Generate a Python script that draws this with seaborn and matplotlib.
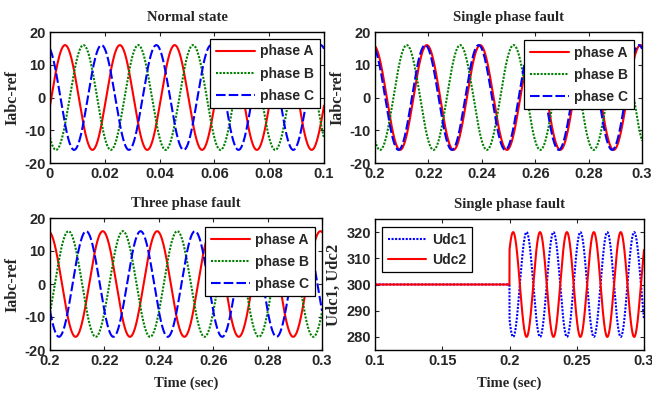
"""
plot.py

Reference currents and DC-link voltages for normal state, single phase
fault and three phase fault (MATLAB-style 2x2 figure).
"""
import numpy as np
import pandas as pd
import matplotlib
matplotlib.use("Agg")
import matplotlib.pyplot as plt
import seaborn as sns


# =========================
# DATA
# =========================
FREQ = 50.0                 # Hz, one cycle = 0.02 s
I_AMP = 16.0                # current amplitude
# time of a positive peak for each phase, per panel (sec)
NORMAL_PEAKS = {"phase A": 0.0055, "phase B": 0.0122, "phase C": 0.0188}
SINGLE_PEAKS = {"phase A": 0.2194, "phase B": 0.2119, "phase C": 0.2188}
THREE_PEAKS = {"phase A": 0.2194, "phase B": 0.2068, "phase C": 0.2133}

UDC_BASE = 300.0
UDC_AMP = 20.0
FAULT_TIME = 0.2
UDC2_PEAK = 0.2027          # Udc2 first peak after fault; Udc1 is in antiphase

PHASES = ["phase A", "phase B", "phase C"]
UDC_NAMES = ["Udc1", "Udc2"]

NORMAL_XTICKS = [0, 0.02, 0.04, 0.06, 0.08, 0.1]
FAULT_XTICKS = [0.2, 0.22, 0.24, 0.26, 0.28, 0.3]
UDC_XTICKS = [0.1, 0.15, 0.2, 0.25, 0.3]
I_YTICKS = [-20, -10, 0, 10, 20]
UDC_YTICKS = [280, 290, 300, 310, 320]


# =========================
# SETTINGS
# =========================
sns.set_theme(style="ticks")
plt.rcParams["font.family"] = ["Liberation Sans", "DejaVu Sans"]
plt.rcParams["axes.unicode_minus"] = False
plt.rcParams["xtick.direction"] = "in"
plt.rcParams["ytick.direction"] = "in"
plt.rcParams["xtick.top"] = True
plt.rcParams["ytick.right"] = True

SERIF = ["Liberation Serif", "DejaVu Serif"]
LW = 1.5
STYLE = {
    "phase A": dict(color="#ff0000", linestyle="-"),
    "phase B": dict(color="#008000", linestyle=(0, (1, 0.7))),
    "phase C": dict(color="#0000ff", linestyle=(0, (4.6, 1.5))),
    "Udc1": dict(color="#0000ff", linestyle=(0, (1, 0.7))),
    "Udc2": dict(color="#ff0000", linestyle="-"),
}


def phase_frame(peaks, t0, t1):
    t = np.linspace(t0, t1, 2001)
    rows = []
    for name in PHASES:
        y = I_AMP * np.cos(2 * np.pi * FREQ * (t - peaks[name]))
        rows.append(pd.DataFrame({"t": t, "y": y, "series": name}))
    return pd.concat(rows)


def udc_frame(t0, t1):
    t = np.linspace(t0, t1, 4001)
    wave = UDC_AMP * np.cos(2 * np.pi * FREQ * (t - UDC2_PEAK))
    after = t >= FAULT_TIME
    udc2 = np.where(after, UDC_BASE + wave, UDC_BASE)
    udc1 = np.where(after, UDC_BASE - wave, UDC_BASE)
    return pd.concat([
        pd.DataFrame({"t": t, "y": udc1, "series": "Udc1"}),
        pd.DataFrame({"t": t, "y": udc2, "series": "Udc2"}),
    ])


def draw(ax, df, names):
    for name in names:
        part = df[df["series"] == name]
        sns.lineplot(data=part, x="t", y="y", ax=ax, estimator=None,
                     sort=False, lw=LW, label=name, **STYLE[name])


def finish(ax, title, xticks, yticks, xlim, ylim, ylabel, xlabel=None, ysize=11.5):
    ax.set_xlim(*xlim)
    ax.set_ylim(*ylim)
    ax.set_xticks(xticks)
    ax.set_xticklabels([f"{v:g}" for v in xticks])
    ax.set_yticks(yticks)
    ax.set_yticklabels([f"{v:g}" for v in yticks])
    ax.tick_params(labelsize=10.5, length=3, width=0.8, pad=3)
    for lab in ax.get_xticklabels() + ax.get_yticklabels():
        lab.set_fontweight("bold")
    for sp in ax.spines.values():
        sp.set_linewidth(1.0)
        sp.set_color("black")
    ax.set_title(title, family=SERIF, fontweight="bold", fontsize=10.5, pad=8)
    ax.set_ylabel(ylabel, family=SERIF, fontweight="bold", fontsize=ysize, labelpad=3)
    ax.set_xlabel(xlabel if xlabel else "", family=SERIF, fontweight="bold",
                  fontsize=10.5, labelpad=6)


def legend(ax, loc, anchor, spacing=0.58):
    leg = ax.legend(loc=loc, bbox_to_anchor=anchor, frameon=True, fancybox=False,
                    prop={"weight": "bold", "size": 10}, handlelength=2.8,
                    borderpad=0.4, labelspacing=spacing, handletextpad=0.4,
                    borderaxespad=0.0)
    leg.get_frame().set_edgecolor("black")
    leg.get_frame().set_linewidth(0.9)
    leg.get_frame().set_alpha(1.0)


# =========================
# FIGURE
# =========================
fig = plt.figure(figsize=(6.52, 3.98), dpi=100)
fig.patch.set_facecolor("white")

ax1 = fig.add_axes([50 / 652, 235 / 398, 274 / 652, 131 / 398])
ax2 = fig.add_axes([375 / 652, 235 / 398, 267 / 652, 131 / 398])
ax3 = fig.add_axes([50 / 652, 48 / 398, 272 / 652, 132 / 398])
ax4 = fig.add_axes([375 / 652, 48 / 398, 269 / 652, 131 / 398])

draw(ax1, phase_frame(NORMAL_PEAKS, 0, 0.1), PHASES)
finish(ax1, "Normal state", NORMAL_XTICKS, I_YTICKS, (0, 0.1), (-20, 20), "Iabc-ref")
legend(ax1, "upper right", (0.985, 0.947))

draw(ax2, phase_frame(SINGLE_PEAKS, 0.2, 0.3), PHASES)
finish(ax2, "Single phase fault", FAULT_XTICKS, I_YTICKS, (0.2, 0.3), (-20, 20), "Iabc-ref")
legend(ax2, "upper right", (0.970, 0.939))

draw(ax3, phase_frame(THREE_PEAKS, 0.2, 0.3), PHASES)
finish(ax3, "Three phase fault", FAULT_XTICKS, I_YTICKS, (0.2, 0.3), (-20, 20),
       "Iabc-ref", "Time (sec)")
legend(ax3, "upper right", (0.974, 0.932))

draw(ax4, udc_frame(0.1, 0.3), UDC_NAMES)
finish(ax4, "Single phase fault", UDC_XTICKS, UDC_YTICKS, (0.1, 0.3), (275, 325),
       "Udc1, Udc2", "Time (sec)", ysize=12)
legend(ax4, "upper left", (0.026, 0.939), spacing=0.45)

fig.savefig("out.png", dpi=100, facecolor="white")
